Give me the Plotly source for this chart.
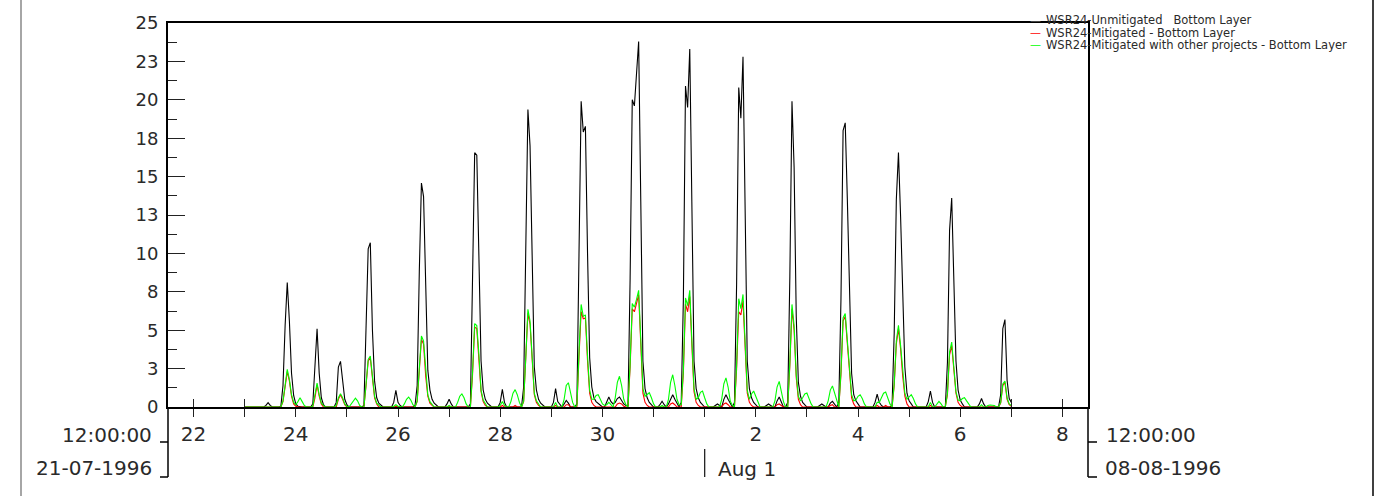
import pandas as pd
import plotly.graph_objects as go

# ---------------- data (hourly, from 1996-07-23 00:00) ----------------
series_start = "1996-07-23 00:00"

unmitigated_by_day = [
    [0,0,0,0,0,0,0,0,0,0,0.1,0.28,0.1,0,0,0,0,0.05,1.4,5.3,8.1,5.6,2.2,0.75],
    [0.2,0.05,0,0,0,0,0,0,0.2,2.4,5.1,2.2,0.6,0.15,0,0,0,0,0,0.3,2.6,2.97,1.8,0.5],
    [0.15,0,0,0,0,0,0,0,0.1,5.0,10.3,10.7,5.0,1.7,0.6,0.25,0.1,0,0,0,0,0,0.3,1.08],
    [0.3,0.1,0,0,0,0,0,0,0.1,1.4,8.8,14.58,13.7,6.9,2.4,1.1,0.5,0.25,0.1,0,0,0,0,0.2],
    [0.5,0.2,0,0,0,0,0,0,0,0,0.2,7.3,16.56,16.4,10.6,3.0,1.1,0.5,0.25,0.1,0,0,0,0],
    [0.3,1.15,0.3,0,0,0,0,0,0,0,0,1.3,9.9,19.36,17.0,9.1,2.6,1.1,0.5,0.25,0.1,0,0,0],
    [0,0.3,1.2,0.35,0.15,0,0.2,0.43,0.25,0,0,0,0.2,11.0,19.9,17.9,18.27,10.0,3.2,1.3,0.6,0.35,0.25,0.15],
    [0,0,0.3,0.65,0.35,0.2,0.3,0.55,0.65,0.4,0.2,0.1,0.1,8.4,20.0,19.6,21.7,23.8,13.4,3.0,1.2,0.6,0.3,0.15],
    [0,0,0,0.15,0.37,0.15,0,0.2,0.55,0.8,0.5,0.2,0,0.3,7.0,20.9,19.5,23.3,13.0,3.0,1.2,0.6,0.3,0.15],
    [0,0,0,0,0,0.1,0.2,0.1,0,0.5,0.8,0.5,0.2,0,0.3,8.0,20.8,18.8,22.8,13.0,3.0,1.2,0.6,0.3],
    [0.15,0,0,0,0,0.1,0.2,0.1,0,0,0.4,0.65,0.35,0,0,0.3,8.5,19.9,15.6,5.9,1.6,0.7,0.3,0.15],
    [0,0,0,0,0,0,0.1,0.2,0.1,0,0,0.25,0.37,0.2,0,0.3,7.0,18.0,18.5,13.5,6.9,2.2,0.8,0.4],
    [0.2,0,0,0,0,0,0,0,0.3,0.83,0.3,0.1,0,0,0,0,0.1,4.8,13.5,16.56,12.4,6.9,2.6,0.9],
    [0.4,0.2,0,0,0,0,0,0,0,0.35,1.04,0.3,0,0,0,0,0,0,2.9,11.5,13.6,8.0,3.0,1.1],
    [0.45,0.2,0,0,0,0,0,0,0,0.2,0.55,0.2,0,0,0,0,0,0,0,0.8,5.1,5.69,1.75,0.55],
    [0.3],
]

mitigated_by_day = [
    [0,0,0,0,0,0,0,0,0,0,0,0,0,0,0,0,0,0,0.35,1.5,2.3,1.7,0.7,0.2],
    [0.05,0,0,0,0,0,0,0,0,0.6,1.45,0.7,0.2,0,0,0,0,0,0,0,0.5,0.8,0.5,0.15],
    [0,0,0,0,0,0,0,0,0,1.4,3.0,3.2,1.7,0.6,0.2,0,0,0,0,0,0,0,0,0.05],
    [0,0,0,0,0,0,0,0,0,0.35,2.6,4.4,4.1,2.0,0.7,0.25,0.1,0,0,0,0,0,0,0],
    [0.05,0,0,0,0,0,0,0,0,0,0,2.1,5.2,5.1,3.2,1.0,0.35,0.1,0,0,0,0,0,0],
    [0,0.1,0,0,0,0,0,0.1,0,0,0,0.35,3.0,6.1,5.4,2.8,0.8,0.3,0.1,0,0,0,0,0],
    [0,0,0.1,0,0,0,0,0.15,0.15,0,0,0,0,3.3,6.2,5.75,5.8,3.0,0.9,0.3,0.1,0,0,0],
    [0,0,0,0,0,0,0,0.2,0.26,0.2,0.05,0,0,2.6,6.4,6.2,6.7,7.3,4.1,0.9,0.3,0.1,0,0],
    [0,0,0,0,0,0,0,0,0.2,0.26,0.15,0,0,0,2.2,6.7,6.2,7.2,4.0,1.0,0.3,0.1,0,0],
    [0,0,0,0,0,0,0,0,0,0.2,0.26,0.15,0,0,0,2.5,6.2,6.0,6.9,3.9,0.9,0.3,0.1,0],
    [0,0,0,0,0,0,0,0,0,0,0.15,0.2,0.1,0,0,0,2.7,6.4,5.0,1.9,0.5,0.15,0,0],
    [0,0,0,0,0,0,0,0,0,0,0,0.1,0.15,0,0,0,2.1,5.6,5.9,4.2,2.0,0.6,0.2,0],
    [0,0,0,0,0,0,0,0,0,0.1,0,0,0,0.1,0,0,0,1.4,4.1,5.1,3.8,2.0,0.7,0.2],
    [0,0,0,0,0,0,0,0,0,0,0.1,0,0,0,0,0,0,0,0.8,3.4,4.0,2.4,0.9,0.3],
    [0.1,0,0,0,0,0,0,0,0,0,0,0,0,0,0,0,0,0,0,0.25,1.4,1.6,0.5,0.15],
    [0.05],
]

mitigated_other_by_day = [
    [0,0,0,0,0,0,0,0,0,0,0,0,0,0,0,0,0,0,0.4,1.6,2.45,1.8,0.8,0.3],
    [0.15,0.35,0.6,0.35,0.1,0,0,0,0.05,0.7,1.56,0.8,0.25,0.1,0,0,0,0,0,0.1,0.6,0.87,0.6,0.2],
    [0.05,0,0.2,0.45,0.58,0.4,0.1,0,0,1.5,3.1,3.32,1.8,0.7,0.25,0.1,0,0,0,0,0,0,0.05,0.15],
    [0.05,0,0,0.2,0.5,0.65,0.45,0.15,0,0.4,2.8,4.62,4.3,2.2,0.8,0.35,0.15,0,0,0,0,0,0,0],
    [0.1,0,0,0,0.3,0.7,0.85,0.6,0.2,0,0,2.3,5.43,5.3,3.4,1.1,0.45,0.2,0,0,0,0,0,0],
    [0.1,0.35,0.1,0,0,0.35,0.9,1.13,0.8,0.3,0,0.4,3.2,6.36,5.6,3.0,0.9,0.4,0.2,0,0,0,0,0],
    [0,0,0.3,0,0,0,0.5,1.4,1.58,0.9,0.3,0,0.1,3.6,6.68,5.9,6.0,3.3,1.1,0.5,0.5,0.75,0.8,0.5],
    [0.2,0.1,0.15,0.3,0.15,0,0.6,1.6,2.0,1.4,0.5,0.15,0,2.8,6.73,6.5,7.0,7.6,4.4,1.2,0.7,0.85,0.93,0.6],
    [0.2,0,0,0,0.1,0,0,0.5,1.6,2.1,1.4,0.5,0.15,0.15,2.4,7.1,6.6,7.6,4.3,1.2,0.5,0.6,0.95,1.04],
    [0.6,0.2,0,0,0,0,0,0,0.5,1.5,1.9,1.3,0.4,0.1,0,2.7,7.05,6.4,7.33,4.2,1.1,0.5,0.85,1.04],
    [0.7,0.25,0,0,0,0,0,0,0,0.4,1.3,1.67,1.1,0.35,0,0,2.9,6.68,5.3,2.1,0.7,0.4,0.6,0.85],
    [0.91,0.55,0.2,0,0,0,0,0,0,0,0.4,1.1,1.37,0.9,0.3,0,2.3,5.8,6.08,4.4,2.2,0.8,0.4,0.45],
    [0.7,0.8,0.55,0.2,0,0,0,0,0,0.3,0.3,0.6,0.9,0.98,0.6,0.2,0,1.5,4.3,5.32,4.0,2.2,0.9,0.5],
    [0.65,0.8,0.55,0.2,0,0,0,0,0,0,0.3,0,0,0.2,0.37,0.2,0,0,0.9,3.6,4.23,2.6,1.0,0.45],
    [0.4,0.55,0.61,0.4,0.15,0,0,0,0,0,0.15,0,0,0.1,0.13,0.13,0.1,0,0,0.3,1.5,1.69,0.6,0.2],
    [0.1],
]

series_names = [
    "WSR24-Unmitigated \u00a0 Bottom Layer",
    "WSR24-Mitigated - Bottom Layer",
    "WSR24-Mitigated with other projects - Bottom Layer",
]
series_colors = ["#000000", "#ff0000", "#00ff00"]
legend_dash_colors = ["#555555", "#ff0000", "#00ff00"]

y_tick_values = [0, 2.5, 5, 7.5, 10, 12.5, 15, 17.5, 20, 22.5, 25]
y_tick_labels = ["0", "3", "5", "8", "10", "13", "15", "18", "20", "23", "25"]

x_tick_labels = ["22", "", "24", "", "26", "", "28", "", "30", "", "", "2", "", "4", "", "6", "", "8"]
x_inside_tick_dates = ["1996-07-22", "1996-07-23", "1996-08-07", "1996-08-08"]
x_range = ["1996-07-21 12:00", "1996-08-08 12:00"]

# ---------------- build ----------------
def flatten(days):
    out = []
    for d in days:
        out.extend(d)
    return out

unmitigated = flatten(unmitigated_by_day)
mitigated = flatten(mitigated_by_day)
mitigated_other = flatten(mitigated_other_by_day)
times = pd.date_range(series_start, periods=len(unmitigated), freq="h")
x_tick_dates = pd.date_range("1996-07-22", "1996-08-08", freq="D")

FONT = "DejaVu Sans"
TXT = "#2a2a2a"

fig = go.Figure()
for vals, name, col in zip([unmitigated, mitigated, mitigated_other], series_names, series_colors):
    fig.add_trace(go.Scatter(x=times, y=vals, mode="lines", name=name,
                             line=dict(color=col, width=1.1), showlegend=False))

W, H = 1389, 496
L, R, T, B = 168, 301, 23, 89
PW, PH = W - L - R, H - T - B

def px(xp):
    return (xp - L) / PW

def py(yp):
    return (H - B - yp) / PH

fig.update_layout(
    width=W, height=H,
    margin=dict(l=L, r=R, t=T, b=B),
    paper_bgcolor="white", plot_bgcolor="white",
    font=dict(family=FONT, color=TXT, size=18),
    showlegend=False,
    xaxis=dict(
        type="date", range=x_range,
        showgrid=False, zeroline=False,
        showline=True, linecolor="black", linewidth=2, mirror=True,
        ticks="outside", ticklen=8, tickwidth=1.3, tickcolor="#222",
        tickmode="array", tickvals=x_tick_dates, ticktext=x_tick_labels,
        tickfont=dict(size=20, family=FONT, color=TXT),
    ),
    xaxis2=dict(
        type="date", range=x_range, overlaying="x", anchor="y", side="bottom",
        showgrid=False, zeroline=False, showline=False,
        ticks="inside", ticklen=8, tickwidth=1.3, tickcolor="#222",
        tickmode="array", tickvals=x_inside_tick_dates, showticklabels=False,
    ),
    yaxis=dict(
        range=[0, 25],
        showgrid=False, zeroline=False,
        showline=True, linecolor="black", linewidth=2, mirror=True,
        ticks="inside", ticklen=17, tickwidth=1.3, tickcolor="#222",
        tickmode="array", tickvals=y_tick_values, ticktext=y_tick_labels,
        minor=dict(ticks="inside", ticklen=9, tickwidth=1.3, tickcolor="#222", dtick=1.25, tick0=0),
        tickfont=dict(size=18, family=FONT, color=TXT),
        ticklabelstandoff=4,
    ),
)
# invisible trace to anchor overlay axis
fig.add_trace(go.Scatter(x=times[:1], y=[None], xaxis="x2", yaxis="y", showlegend=False, hoverinfo="skip"))

shapes = []
line_blk = dict(color="black", width=1.5)
# outer frame lines
shapes.append(dict(type="line", xref="paper", yref="paper", x0=px(21), x1=px(21), y0=py(H), y1=py(0),
                   line=dict(color="#888888", width=1.5)))
shapes.append(dict(type="line", xref="paper", yref="paper", x0=px(1373), x1=px(1373), y0=py(H), y1=py(0),
                   line=line_blk))
# extensions below the plot
for xe, xt in [(0, px(160)), (1, px(1097))]:
    shapes.append(dict(type="line", xref="paper", yref="paper", x0=xe, x1=xe, y0=py(477), y1=0, line=line_blk))
    for yy in (442, 477):
        shapes.append(dict(type="line", xref="paper", yref="paper", x0=xe, x1=xt, y0=py(yy), y1=py(yy),
                           line=line_blk))
# Aug 1 marker
shapes.append(dict(type="line", xref="x", yref="paper", x0="1996-08-01", x1="1996-08-01",
                   y0=py(449), y1=py(477), line=dict(color="#222", width=1.3)))
fig.update_layout(shapes=shapes)

ann = []
def add_text(text, x, y, xanchor, size=20, xref="paper", xshift=0, color=TXT):
    ann.append(dict(text=text, x=x, y=y, xref=xref, yref="paper", xanchor=xanchor, yanchor="middle",
                    showarrow=False, xshift=xshift, borderpad=0,
                    font=dict(size=size, family=FONT, color=color)))

add_text("12:00:00", px(153), py(435), "right")
add_text("21-07-1996", px(153), py(468), "right")
add_text("12:00:00", px(1105), py(435), "left")
add_text("08-08-1996", px(1104), py(468), "left")
add_text("Aug 1", "1996-08-01", py(469), "left", xref="x", xshift=12)

for i, (name, dcol) in enumerate(zip(series_names, legend_dash_colors)):
    row_y = py(20.5 + 12 * i)
    add_text("\u2014", px(1029), row_y, "left", size=11, color=dcol)
    add_text(name, px(1045), row_y, "left", size=11.5)
fig.update_layout(annotations=ann)

fig.write_html("out.html", config={"displayModeBar": False},
               post_script="document.body.style.margin='0';document.body.style.padding='0';")
